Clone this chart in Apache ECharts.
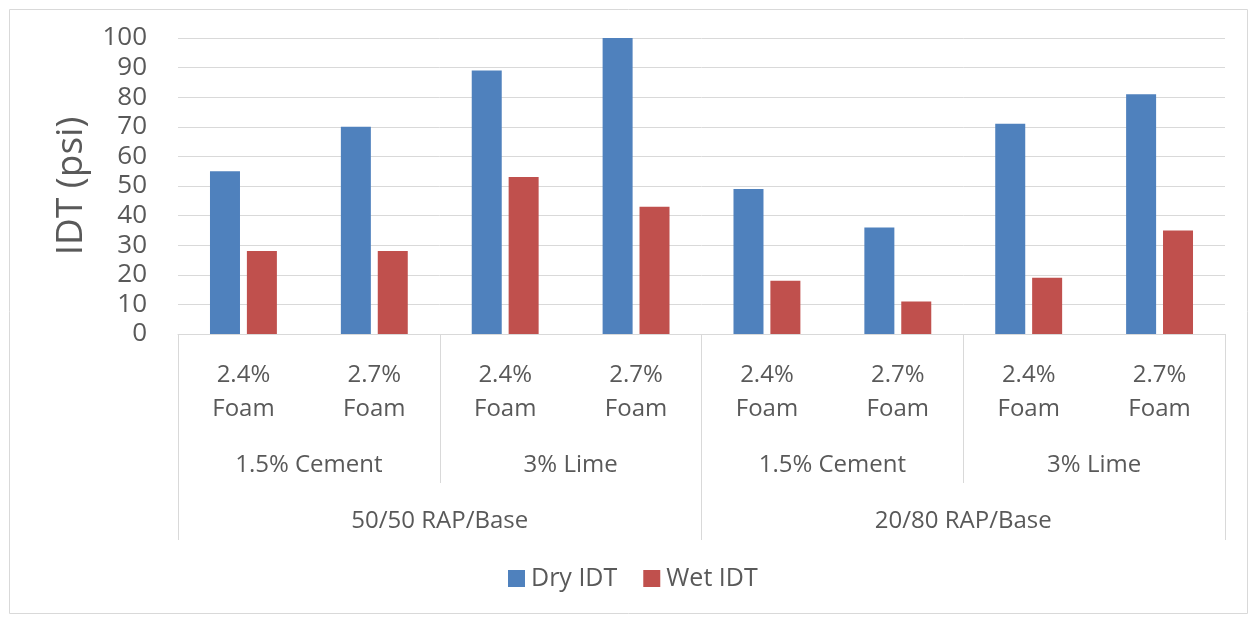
<!DOCTYPE html>
<html>
<head>
<meta charset="utf-8">
<script src="https://cdn.jsdelivr.net/npm/echarts@6/dist/echarts.min.js"></script>
<style>
  html, body { margin: 0; padding: 0; background: #fff; }
  #chart { width: 1253px; height: 618px; }
</style>
</head>
<body>
<div id="chart"></div>
<script>
// categories, three levels
var foamLabels = ['2.4%\nFoam', '2.7%\nFoam', '2.4%\nFoam', '2.7%\nFoam', '2.4%\nFoam', '2.7%\nFoam', '2.4%\nFoam', '2.7%\nFoam'];
var binderLabels = ['1.5% Cement', '3% Lime', '1.5% Cement', '3% Lime'];
var blendLabels = ['50/50 RAP/Base', '20/80 RAP/Base'];

// values (psi)
var dryIDT = [55, 70, 89, 100, 49, 36, 71, 81];
var wetIDT = [28, 28, 53, 43, 18, 11, 19, 35];

var font = 'Open Sans';
var textColor = '#595959';
var lineColor = '#d9d9d9';

var chart = echarts.init(document.getElementById('chart'));
chart.setOption({
    animation: false,
    textStyle: { fontFamily: font },
    graphic: [{
        type: 'rect',
        left: 7, top: 7,
        shape: { width: 1238, height: 604 },
        style: { fill: 'none', stroke: lineColor, lineWidth: 1 }
    }],
    grid: { left: 178, right: 28, top: 38, bottom: 284 },
    legend: {
        bottom: 22,
        left: 503,
        itemWidth: 17,
        itemHeight: 17,
        itemGap: 26,
        icon: 'rect',
        textStyle: { fontFamily: font, fontSize: 25, color: textColor, padding: [0, 0, 0, 1] },
        data: ['Dry IDT', 'Wet IDT']
    },
    xAxis: [{
        type: 'category',
        data: foamLabels,
        position: 'bottom',
        axisLine: { lineStyle: { color: lineColor } },
        axisTick: { show: false },
        axisLabel: { margin: 24, fontSize: 24, lineHeight: 34, color: textColor, fontFamily: font, interval: 0 }
    }, {
        type: 'category',
        data: binderLabels,
        position: 'bottom',
        axisLine: { show: false },
        axisTick: { show: true, length: 149, lineStyle: { color: lineColor } },
        axisLabel: { margin: 116, fontSize: 24, lineHeight: 30, color: textColor, fontFamily: font, interval: 0 }
    }, {
        type: 'category',
        data: blendLabels,
        position: 'bottom',
        axisLine: { show: false },
        axisTick: { show: true, length: 206, lineStyle: { color: lineColor } },
        axisLabel: { margin: 172, fontSize: 24, lineHeight: 30, color: textColor, fontFamily: font, interval: 0 }
    }],
    yAxis: {
        type: 'value',
        min: 0,
        max: 100,
        interval: 10,
        name: 'IDT (psi)',
        nameLocation: 'middle',
        nameGap: 88,
        nameTextStyle: { fontSize: 37, color: textColor, fontFamily: font },
        axisLine: { show: false },
        axisTick: { show: false },
        axisLabel: { margin: 31, fontSize: 26, color: textColor, fontFamily: font },
        splitLine: { lineStyle: { color: lineColor } }
    },
    series: [{
        name: 'Dry IDT',
        type: 'bar',
        xAxisIndex: 0,
        barWidth: 30,
        barGap: '23%',
        itemStyle: { color: '#4f81bd' },
        data: dryIDT
    }, {
        name: 'Wet IDT',
        type: 'bar',
        xAxisIndex: 0,
        barWidth: 30,
        itemStyle: { color: '#c0504d' },
        data: wetIDT
    }]
});
</script>
</body>
</html>
